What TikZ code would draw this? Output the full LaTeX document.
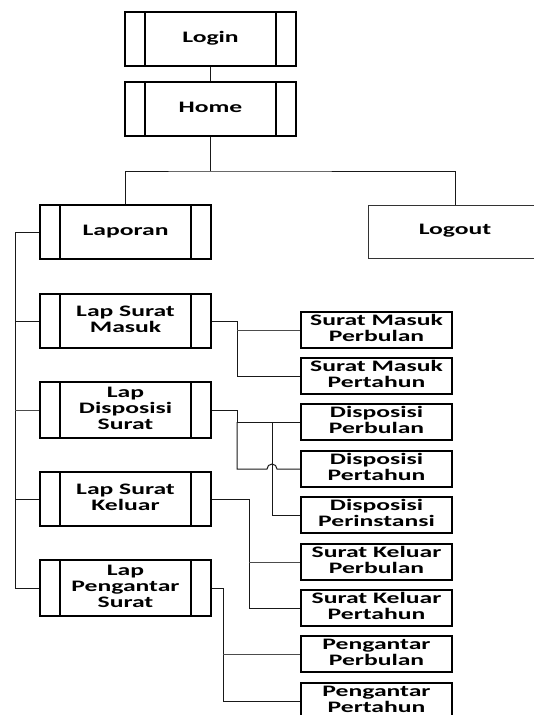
\documentclass[tikz,border=0pt]{standalone}
\usepackage{fontspec}
\usepackage{graphicx}
\setmainfont{Carlito}
\usetikzlibrary{calc}

% wide, bold label text (one or more centred lines)
\newcommand{\widetxt}[1]{\raisebox{-2pt}{\scalebox{1.6}[1]{\begin{tabular}{@{}c@{}}#1\end{tabular}}}}

\tikzset{
  labelfont/.style={font=\fontsize{16}{16}\selectfont\bfseries},
  proc/.style={draw, line width=1.5pt, minimum width=171pt, minimum height=54pt,
    inner sep=0pt, labelfont,
    path picture={
      \draw[line width=1.5pt]
        ([xshift=20pt]path picture bounding box.north west) --
        ([xshift=20pt]path picture bounding box.south west)
        ([xshift=-20pt]path picture bounding box.north east) --
        ([xshift=-20pt]path picture bounding box.south east);
    }},
  subbox/.style={draw, line width=1.2pt, minimum width=151pt, minimum height=36pt,
    inner sep=0pt, labelfont},
  plainbox/.style={draw=black!80, line width=0.8pt, minimum width=174pt,
    minimum height=53pt, inner sep=0pt, labelfont},
  link/.style={line width=1pt, black!90},
  branch/.style={line width=0.8pt, black!70},
}

\begin{document}
\begin{tikzpicture}[x=1pt, y=-1pt]
  \useasboundingbox (0,0) rectangle (534,715);

  % main menu
  \node[proc] (login) at (210.5,39) {\widetxt{Login}};
  \node[proc] (home) at (210.5,109) {\widetxt{Home}};
  \node[proc] (laporan) at (125.5,232) {\widetxt{Laporan}};
  \node[plainbox] (logout) at (455,231.5) {\widetxt{Logout}};

  % report groups
  \node[proc] (lmasuk) at (125.5,321) {\widetxt{Lap Surat\\Masuk}};
  \node[proc, minimum height=56pt] (ldisp) at (125.5,410) {\widetxt{Lap\\Disposisi\\Surat}};
  \node[proc] (lkeluar) at (125.5,499) {\widetxt{Lap Surat\\Keluar}};
  \node[proc, minimum height=56pt] (lpeng) at (125.5,588) {\widetxt{Lap\\Pengantar\\Surat}};

  % individual reports
  \node[subbox] (smbul) at (376.5,330) {\widetxt{Surat Masuk\\Perbulan}};
  \node[subbox] (smthn) at (376.5,376) {\widetxt{Surat Masuk\\Pertahun}};
  \node[subbox] (dbul) at (376.5,422) {\widetxt{Disposisi\\Perbulan}};
  \node[subbox] (dthn) at (376.5,469) {\widetxt{Disposisi\\Pertahun}};
  \node[subbox] (dinst) at (376.5,515) {\widetxt{Disposisi\\Perinstansi}};
  \node[subbox] (skbul) at (376.5,562) {\widetxt{Surat Keluar\\Perbulan}};
  \node[subbox] (skthn) at (376.5,608) {\widetxt{Surat Keluar\\Pertahun}};
  \node[subbox] (pbul) at (376.5,654) {\widetxt{Pengantar\\Perbulan}};
  \node[subbox] (pthn) at (376.5,701) {\widetxt{Pengantar\\Pertahun}};

  % top of the tree
  \draw[link] (login.south) -- (home.north);
  \coordinate (bus) at (210.5,171);
  \draw[link] (home.south) -- (bus);
  \draw[link] (laporan.north) |- (bus) -| (logout.north);

  % trunk on the left
  \coordinate (trunk) at (15,232);
  \draw[link] (laporan.west) -- (trunk) |- (lpeng.west);
  \draw[link] (trunk |- lmasuk.west) -- (lmasuk.west);
  \draw[branch] (trunk |- ldisp.west) -- (ldisp.west);
  \draw[link] (trunk |- lkeluar.west) -- (lkeluar.west);

  % surat masuk
  \coordinate (m1) at (237,321);
  \draw[link] (lmasuk.east) -- (m1) |- (smthn.west);
  \draw[branch] (m1 |- smbul.west) -- (smbul.west);

  % disposisi, with a hop where the lines cross
  \coordinate (d1) at (237,410);
  \coordinate (d2) at (272,422);
  \draw[link] (ldisp.east) -- (d1) -- (d1 |- dbul.west) -- (dbul.west);
  \draw[link] (d1 |- dbul.west) -- (d1 |- dthn.west)
    -- ([xshift=-5pt]d2 |- dthn.west)
    arc[start angle=180, end angle=0, radius=5pt] -- (dthn.west);
  \draw[link] (d2) |- (dinst.west);

  % surat keluar
  \coordinate (k1) at (249,499);
  \draw[link] (lkeluar.east) -- (k1) |- (skthn.west);
  \draw[branch] (k1 |- skbul.west) -- (skbul.west);

  % pengantar
  \coordinate (p1) at (223,588);
  \draw[link] (lpeng.east) -- (p1) |- (pthn.west);
  \draw[branch] (p1 |- pbul.west) -- (pbul.west);
\end{tikzpicture}
\end{document}
